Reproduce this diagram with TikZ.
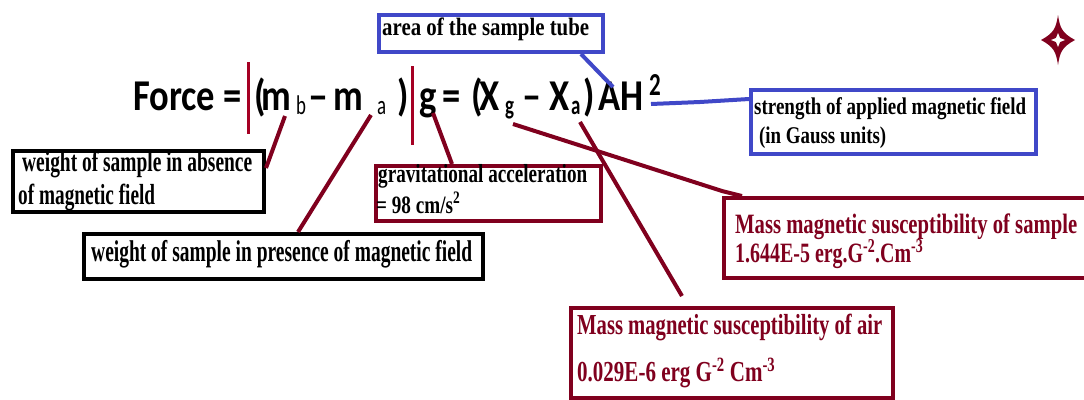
\documentclass[tikz,border=0pt]{standalone}
\usepackage{fontspec}
\usepackage{graphicx}
\usetikzlibrary{calc}
\newfontfamily\eqf{Carlito}
\newfontfamily\lbf{Liberation Serif}
\definecolor{mred}{RGB}{128,0,30}
\definecolor{barred}{RGB}{165,0,35}
\definecolor{bblue}{RGB}{64,72,200}
\newcommand\fw[2]{\resizebox{#1pt}{\height}{#2}}
\newcommand\sx[1]{\scalebox{0.83}[1]{#1}}
\newcommand\sxs[1]{\scalebox{0.7}[1]{#1}}
\tikzset{
  box/.style={draw, line width=4pt, rectangle, inner sep=0pt, anchor=north west, fill=white},
  blackbox/.style={box, draw=black},
  bluebox/.style={box, draw=bblue},
  redbox/.style={box, draw=mred},
  lbl/.style={inner sep=0pt, anchor=base west},
  eq/.style={inner sep=0pt, anchor=base west, font=\eqf\bfseries\fontsize{44}{50}\selectfont},
  eqsub/.style={inner sep=0pt, anchor=base west, font=\eqf\fontsize{27}{30}\selectfont},
  eqsubb/.style={inner sep=0pt, anchor=base west, font=\eqf\bfseries\fontsize{27}{30}\selectfont},
  redline/.style={draw=mred, line width=4pt},
  blueline/.style={draw=bblue, line width=4pt},
  barline/.style={draw=barred, line width=3pt}
}
\begin{document}
\begin{tikzpicture}[x=1pt,y=-1pt]
\useasboundingbox (0,0) rectangle (1084,399);
\fill[white] (0,0) rectangle (1084,399);

% boxes
\node[bluebox, minimum width=224, minimum height=37] (areabox) at (377,13) {};
\node[bluebox, minimum width=285, minimum height=64] (strbox) at (749,88) {};
\node[blackbox, minimum width=251, minimum height=61] (absbox) at (11,149) {};
\node[blackbox, minimum width=399, minimum height=45] (presbox) at (82,232) {};
\node[redbox, minimum width=225, minimum height=55] (gravbox) at (374,164) {};
\node[redbox, minimum width=362, minimum height=80] (sampbox) at (722,196) {};
\node[redbox, minimum width=322, minimum height=90] (airbox) at (569,306) {};

% box texts
\begin{scope}[every node/.append style={lbl}]
\node[font=\lbf\bfseries\fontsize{25}{28}\selectfont] (areat) at (382,35) {\fw{207}{area of the sample tube}};
\node[font=\lbf\bfseries\fontsize{24}{26}\selectfont] (strt1) at (754,114) {\fw{272}{strength of applied magnetic field}};
\node[font=\lbf\bfseries\fontsize{24}{26}\selectfont] (strt2) at (759,143) {\fw{127}{(in Gauss units)}};
\node[font=\lbf\bfseries\fontsize{29}{32}\selectfont] (abst1) at (22,171) {\fw{230}{weight of sample in absence}};
\node[font=\lbf\bfseries\fontsize{29}{32}\selectfont] (abst2) at (18,204) {\fw{137}{of magnetic field}};
\node[font=\lbf\bfseries\fontsize{30}{32}\selectfont] (prest) at (91,261) {\fw{381}{weight of sample in presence of magnetic field}};
\node[font=\lbf\bfseries\fontsize{26}{28}\selectfont] (gravt1) at (378,182) {\fw{209}{gravitational acceleration}};
\node[font=\lbf\bfseries\fontsize{25}{28}\selectfont] (gravt2) at (376,213) {\fw{84}{= 98 cm/s\textsuperscript{2}}};
\node[font=\lbf\bfseries\fontsize{28}{30}\selectfont, text=mred] (sampt1) at (735,233) {\fw{342}{Mass magnetic susceptibility of sample}};
\node[font=\lbf\bfseries\fontsize{28}{30}\selectfont, text=mred] (sampt2) at (735,262) {\fw{188}{1.644E-5 erg.G\textsuperscript{-2}.Cm\textsuperscript{-3}}};
\node[font=\lbf\bfseries\fontsize{29}{30}\selectfont, text=mred] (airt1) at (577,334) {\fw{305}{Mass magnetic susceptibility of air}};
\node[font=\lbf\bfseries\fontsize{29}{30}\selectfont, text=mred] (airt2) at (577,381) {\fw{198}{0.029E-6 erg G\textsuperscript{-2} Cm\textsuperscript{-3}}};
\end{scope}

% equation
\node[eq] (force) at (133,110) {\sx{Force =}};
\node[eq] (lp1) at (254,110) {\sx{(}};
\node[eq] (m1) at (261,110) {\sx{m}};
\node[eqsub] (sb) at (296,114) {\sxs{b}};
\node[eq] (d1) at (308,110) {\resizebox{20pt}{\height}{–}};
\node[eq] (m2) at (333,110) {\sx{m}};
\node[eqsub] (sa) at (377,114) {\sxs{a}};
\node[eq] (rp1) at (397,110) {\sx{)}};
\node[eq] (gg) at (419,110) {\sx{g}};
\node[eq] (eq2) at (442,110) {\sx{=}};
\node[eq] (lp2) at (471,110) {\sx{(}};
\node[eq] (x1) at (479,110) {\sx{X}};
\node[eqsubb] (sg) at (505,114) {\sxs{g}};
\node[eq] (d2) at (522,110) {\resizebox{19pt}{\height}{–}};
\node[eq] (x2) at (549,110) {\sx{X}};
\node[eqsubb] (sa2) at (571,114) {\sxs{a}};
\node[eq] (rp2) at (583,110) {\sx{)}};
\node[eq] (ah) at (598,110) {\sx{AH}};
\node[inner sep=0pt, anchor=base west, font=\eqf\bfseries\fontsize{32}{36}\selectfont] (two) at (649,95) {\scalebox{0.72}[1]{2}};

% vertical bars
\draw[barline] (248,62) -- (248,134);
\draw[barline] (412,66) -- (412,145);

% connector start points
\coordinate (cmb) at (285,116);
\coordinate (cma) at (371,115);
\coordinate (cg) at (433,113);
\coordinate (cxg) at (513,124);
\coordinate (kxg) at (722,191);
\coordinate (cxa) at (580,122);
\coordinate (ca) at (613,87);
\coordinate (ch) at (651,104);
\coordinate (kh) at (700,102);

% red connectors
\draw[redline] (cmb) -- ($(absbox.north east)+(0,19)$);
\draw[redline] (cma) -- ($(presbox.north west)+(216,0)$);
\draw[redline] (cg) -- ($(gravbox.north west)+(78,0)$);
\draw[redline] (cxg) -- (kxg) -- ($(sampbox.north west)+(20,0)$);
\draw[redline] (cxa) -- ($(airbox.north west)+(113,-10)$);

% blue connectors
\draw[blueline] ($(areabox.south west)+(204,0)$) -- (ca);
\draw[blueline] (ch) -- (kh) -- ($(strbox.north west)+(0,11)$);

% star
\begin{scope}[shift={(1058,40)}]
\fill[mred, line join=round] (0,-25) .. controls (2,-12) and (4,-7) .. (17,0) .. controls (4,7) and (2,12) .. (0,25) .. controls (-2,12) and (-4,7) .. (-17,0) .. controls (-4,-7) and (-2,-12) .. (0,-25) -- cycle;
\fill[white] (0,-7) -- (2,-2) -- (7,0) -- (2,2) -- (0,7) -- (-2,2) -- (-7,0) -- (-2,-2) -- cycle;
\end{scope}
\end{tikzpicture}
\end{document}
